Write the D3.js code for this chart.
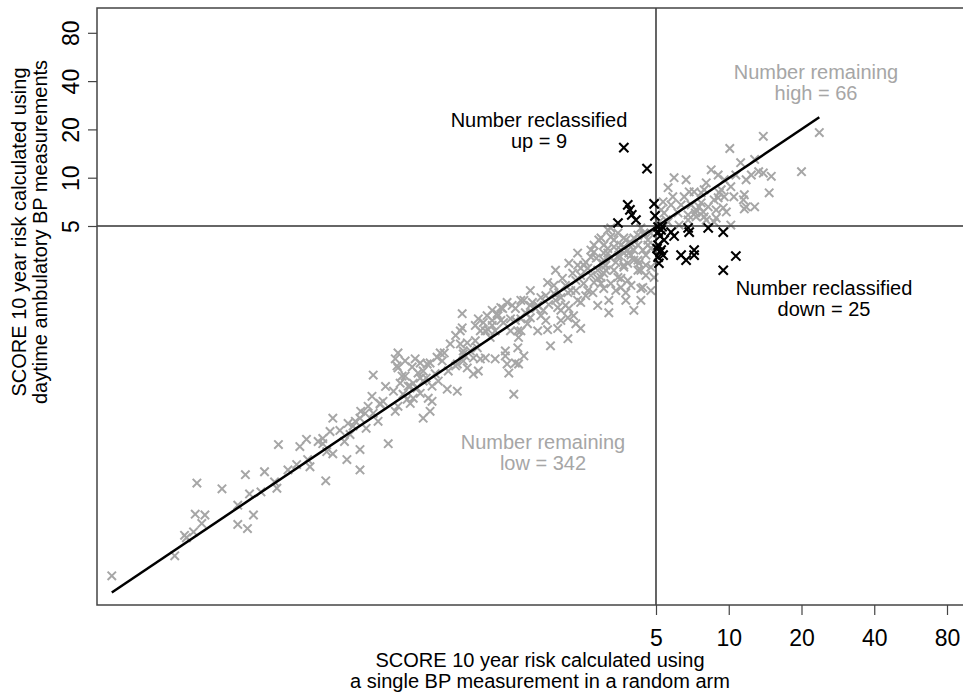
<!DOCTYPE html>
<html>
<head>
<meta charset="utf-8">
<script src="https://cdn.jsdelivr.net/npm/d3@7"></script>
<style>
body { margin: 0; background: #fff; }
svg text { font-family: "Liberation Sans", Arial, sans-serif; }
</style>
</head>
<body>
<script>
// SCORE 10 year risk (%): [single BP measurement, daytime ambulatory BP]
var remainingLow = [
    [0.028, 0.033], [0.063, 0.125], [0.080, 0.115], [0.100, 0.141], [0.120, 0.147], [0.137, 0.217],
    [0.150, 0.151], [0.132, 0.127], [0.135, 0.116], [0.116, 0.110], [0.104, 0.107], [0.093, 0.091],
    [0.062, 0.080], [0.068, 0.079], [0.066, 0.070], [0.056, 0.059], [0.057, 0.057], [0.061, 0.062],
    [0.051, 0.044], [0.093, 0.069], [0.102, 0.065], [0.108, 0.079], [0.163, 0.163], [0.179, 0.234],
    [0.181, 0.175], [0.185, 0.158], [0.209, 0.237], [0.209, 0.220], [0.217, 0.196], [0.230, 0.190],
    [0.215, 0.129], [0.230, 0.317], [0.246, 0.266], [0.266, 0.294], [0.271, 0.251], [0.263, 0.175],
    [0.298, 0.202], [0.298, 0.151], [0.298, 0.317], [0.316, 0.274], [0.322, 0.376], [0.313, 0.340],
    [0.338, 0.340], [0.354, 0.303], [0.361, 0.392], [0.390, 0.220], [0.417, 0.350], [0.428, 0.376],
    [0.467, 0.416], [0.338, 0.589], [0.417, 0.743], [0.428, 0.809], [0.424, 0.671], [0.437, 0.524],
    [0.481, 0.502], [0.495, 0.524], [0.513, 0.488], [0.529, 0.453], [0.544, 0.540], [0.529, 0.700],
    [0.565, 0.690], [0.592, 0.404], [0.581, 0.350], [0.544, 0.317], [0.684, 0.481], [0.753, 0.467],
    [0.691, 0.624], [0.704, 0.921], [0.753, 0.690], [0.797, 0.721], [0.828, 0.652], [0.852, 0.833],
    [0.911, 0.870], [0.878, 0.597], [0.652, 0.721], [0.789, 1.42], [0.789, 1.16], [1.21, 1.67],
    [1.10, 1.42], [1.05, 1.49], [1.17, 1.25], [1.25, 1.32], [0.965, 1.25], [0.938, 1.11],
    [1.01, 1.13], [1.03, 1.01], [0.894, 0.963], [0.828, 0.935], [0.797, 0.833], [0.878, 0.753],
    [0.938, 0.742], [0.920, 0.624], [0.984, 0.753], [1.08, 0.742], [1.19, 0.833], [1.21, 0.690],
    [1.23, 0.606], [1.31, 0.700], [1.34, 0.870], [1.35, 1.01], [1.29, 0.447], [0.581, 0.700],
    [0.544, 0.624], [0.529, 0.564], [0.472, 0.502], [0.428, 0.652], [0.371, 0.404], [0.449, 0.447],
    [0.495, 0.422], [0.571, 0.422], [0.481, 0.392], [0.361, 0.387], [1.35, 0.690], [1.42, 0.775],
    [1.19, 0.775], [1.83, 0.896], [1.96, 1.15], [2.16, 0.992], [2.44, 1.15], [2.28, 1.38],
    [2.18, 1.53], [1.78, 2.22], [1.92, 2.65], [2.18, 2.93], [2.37, 3.39], [2.37, 2.85],
    [2.77, 3.44], [3.04, 3.80], [3.25, 4.86], [2.87, 2.36], [3.04, 2.54], [3.35, 2.65],
    [3.58, 2.36], [3.75, 1.92], [3.19, 1.72], [3.19, 1.44], [2.87, 1.60], [4.05, 1.49],
    [4.33, 2.04], [2.74, 1.92], [2.44, 1.67], [1.96, 1.55], [1.67, 1.38], [1.62, 1.60],
    [1.51, 1.34], [1.38, 1.72], [1.14, 1.55], [1.05, 1.29], [1.34, 1.11], [1.47, 1.23],
    [1.62, 1.11], [1.78, 1.13], [1.75, 1.29], [2.02, 1.79], [2.16, 1.92], [2.51, 2.19],
    [2.44, 2.46], [2.61, 2.73], [3.01, 2.93], [3.25, 3.15], [3.68, 3.39], [3.94, 3.91],
    [4.21, 4.39], [4.05, 3.06], [4.21, 2.65], [3.68, 2.77], [0.775, 0.921], [0.797, 0.797],
    [2.44, 2.73], [2.05, 2.36], [1.89, 1.90], [1.67, 1.79], [1.54, 1.67], [1.42, 1.72],
    [1.31, 1.53], [1.16, 1.53], [1.71, 1.49], [2.02, 1.49], [2.16, 1.34], [2.37, 1.72],
    [2.61, 1.98], [2.77, 2.22], [2.87, 2.65], [3.04, 3.39], [3.25, 4.27], [3.16, 4.72],
    [3.35, 3.70], [2.96, 2.39], [3.04, 2.04], [3.25, 2.19], [1.38, 1.11], [3.48, 2.39],
    [3.58, 2.07], [3.68, 2.85], [3.68, 3.70], [3.82, 3.54], [4.05, 4.21], [3.48, 4.52],
    [4.46, 4.39], [4.63, 3.80], [4.05, 3.54], [3.58, 3.54], [3.16, 3.39], [4.21, 3.06],
    [3.82, 2.93], [4.33, 2.65], [2.96, 4.21], [3.35, 4.09], [3.68, 4.21], [4.46, 4.52],
    [2.77, 3.80], [3.16, 3.62], [3.58, 3.80], [4.63, 4.09], [2.69, 3.20], [3.04, 3.06],
    [3.48, 3.20], [3.86, 3.39], [4.41, 3.54], [4.76, 3.62], [4.25, 2.93], [4.76, 2.77],
    [2.96, 2.19], [3.82, 2.29], [4.41, 2.07], [4.91, 2.39], [0.504, 0.743], [0.621, 0.760],
    [0.665, 0.809], [0.920, 1.32], [1.00, 1.38], [0.894, 1.20], [1.44, 1.44], [1.59, 1.53],
    [1.80, 1.62], [2.11, 2.13], [2.33, 2.29], [2.56, 2.97], [2.83, 3.15], [3.41, 2.97],
    [3.10, 2.85], [3.75, 4.09], [4.21, 3.80], [4.54, 3.29], [4.54, 2.85], [4.76, 4.52],
    [4.33, 4.86], [3.94, 3.29], [2.69, 2.46], [2.22, 1.98], [1.92, 1.72], [1.14, 1.29],
    [1.08, 1.11], [0.812, 0.775], [0.741, 0.671], [0.610, 0.600], [0.458, 0.580], [0.410, 0.467],
    [0.300, 0.350], [0.279, 0.283], [0.200, 0.227], [0.380, 0.500], [2.11, 1.60], [2.56, 1.84],
    [1.51, 1.60], [1.31, 1.29], [0.458, 0.721], [0.490, 0.661], [0.518, 0.606], [0.445, 0.580],
    [0.560, 0.564], [0.592, 0.502], [0.628, 0.540], [0.640, 0.809], [0.984, 1.11], [1.05, 1.20],
    [1.11, 1.38], [1.27, 1.60], [1.38, 1.32], [1.75, 1.84], [1.89, 2.13], [1.98, 1.92],
    [2.26, 2.54], [2.51, 2.85], [2.69, 3.54], [2.90, 4.09], [3.10, 2.65], [3.41, 1.98],
    [3.75, 1.72], [4.33, 1.72], [4.76, 1.98], [4.54, 2.46], [3.94, 2.13], [3.51, 3.29],
    [2.33, 1.98], [2.02, 1.29], [2.33, 1.23], [1.51, 1.98], [1.25, 1.11], [0.775, 1.11],
    [0.741, 1.04], [0.168, 0.211], [0.224, 0.262], [0.285, 0.303], [0.257, 0.227], [0.334, 0.434]
];

var remainingHigh = [
    [13.9, 18.1], [23.7, 19.1], [10.1, 15.2], [11.2, 12.4], [12.8, 13.0], [8.46, 11.2],
    [9.04, 10.4], [9.58, 9.71], [11.8, 9.71], [12.4, 10.4], [13.3, 10.9], [13.9, 10.7],
    [15.0, 10.2], [20.0, 10.9], [7.19, 8.17], [7.91, 8.41], [9.13, 8.05], [9.04, 7.50],
    [9.58, 7.61], [10.5, 7.61], [11.6, 7.83], [11.5, 7.28], [11.8, 6.58], [11.6, 6.39],
    [12.8, 6.58], [14.7, 8.05], [7.54, 6.58], [7.84, 6.12], [8.22, 6.58], [8.87, 6.30],
    [9.49, 6.49], [9.77, 6.12], [8.87, 5.61], [8.70, 5.29], [10.2, 5.07], [7.28, 6.03],
    [7.91, 5.70], [9.31, 8.41], [10.2, 8.79], [5.94, 10.0], [6.66, 9.71], [5.61, 8.67],
    [7.69, 8.05], [5.35, 7.07], [5.77, 6.77], [6.35, 6.77], [6.17, 6.03], [6.79, 5.86],
    [7.33, 6.30], [7.69, 6.97], [8.70, 7.28], [5.51, 5.45], [6.86, 8.17], [5.40, 6.03],
    [5.61, 5.29], [7.33, 5.70], [6.79, 5.45], [6.54, 7.61], [8.07, 9.29], [10.7, 10.4],
    [5.25, 6.30], [5.87, 7.61], [6.99, 6.77], [8.07, 5.45], [5.14, 5.29], [6.23, 5.07]
];

var reclassifiedUp = [
    [3.68, 15.4], [4.59, 11.4], [3.82, 6.77], [3.97, 5.86], [4.13, 5.45], [3.48, 5.22],
    [4.91, 6.87], [3.90, 6.30], [4.95, 5.78]
];

var reclassifiedDown = [
    [5.10, 4.93], [5.25, 4.72], [5.94, 4.33], [6.79, 4.86], [6.86, 4.58], [8.22, 4.86],
    [9.49, 4.58], [5.25, 3.54], [5.35, 3.29], [5.14, 2.93], [6.35, 3.29], [6.66, 3.06],
    [7.19, 3.54], [7.19, 3.29], [10.7, 3.25], [9.49, 2.65], [5.10, 3.20], [5.10, 4.58],
    [5.20, 4.33], [5.30, 4.95], [5.05, 3.62], [5.20, 3.44], [5.10, 3.80], [5.40, 4.09],
    [5.77, 4.58]
];

var fitLine = [[0.028, 0.026], [23.7, 23.8]];
var tickValues = [5, 10, 20, 40, 80];
var threshold = 5;

var width = 963, height = 693;
var plotLeft = 97, plotRight = 985, plotTop = 8, plotBottom = 605;

var svg = d3.select("body").append("svg")
    .attr("width", width)
    .attr("height", height);

var x = d3.scaleLog().domain([0.02432, 114.9]).range([plotLeft, plotRight]);
var y = d3.scaleLog().domain([0.02172, 114.2]).range([plotBottom, plotTop]);

var grey = "#a6a6a6";
var cross = "M-4,-4L4,4M-4,4L4,-4";

function drawCrosses(data, colour, size, stroke) {
    svg.append("g").selectAll("path")
        .data(data)
        .enter().append("path")
        .attr("d", cross)
        .attr("transform", function (d) {
            return "translate(" + x(d[0]) + "," + y(d[1]) + ") scale(" + size + ")";
        })
        .attr("fill", "none")
        .attr("stroke", colour)
        .attr("stroke-width", stroke / size);
}

drawCrosses(remainingLow, grey, 1.05, 2);
drawCrosses(remainingHigh, grey, 1.05, 2);

// threshold lines at 5%
svg.append("line")
    .attr("x1", x(threshold)).attr("x2", x(threshold))
    .attr("y1", plotTop).attr("y2", plotBottom)
    .attr("stroke", "#333").attr("stroke-width", 1.5);
svg.append("line")
    .attr("x1", plotLeft).attr("x2", plotRight)
    .attr("y1", y(threshold)).attr("y2", y(threshold))
    .attr("stroke", "#333").attr("stroke-width", 1.5);

drawCrosses(reclassifiedUp, "#000", 1.15, 2.1);
drawCrosses(reclassifiedDown, "#000", 1.15, 2.1);

svg.append("path")
    .datum(fitLine)
    .attr("d", d3.line().x(function (d) { return x(d[0]); }).y(function (d) { return y(d[1]); }))
    .attr("fill", "none")
    .attr("stroke", "#000")
    .attr("stroke-width", 2.5);

// frame
svg.append("rect")
    .attr("x", plotLeft).attr("y", plotTop)
    .attr("width", plotRight - plotLeft).attr("height", plotBottom - plotTop)
    .attr("fill", "none").attr("stroke", "#444").attr("stroke-width", 1.5);

// axes
var xAxis = svg.append("g")
    .attr("transform", "translate(0," + plotBottom + ")")
    .call(d3.axisBottom(x).tickValues(tickValues).tickFormat(d3.format("d")).tickSize(10).tickPadding(15));
xAxis.select(".domain").remove();
xAxis.selectAll("line").attr("stroke", "#444").attr("stroke-width", 1.2);
xAxis.selectAll("text").attr("font-size", "23px").attr("fill", "#000")
    .attr("font-family", "Liberation Sans, Arial, sans-serif");

var yAxis = svg.append("g")
    .attr("transform", "translate(" + plotLeft + ",0)")
    .call(d3.axisLeft(y).tickValues(tickValues).tickFormat(d3.format("d")).tickSize(9));
yAxis.select(".domain").remove();
yAxis.selectAll("line").attr("stroke", "#444").attr("stroke-width", 1.2);
yAxis.selectAll("text")
    .attr("x", null).attr("dy", null)
    .attr("transform", "translate(-18,0) rotate(-90)")
    .attr("text-anchor", "middle")
    .attr("font-size", "23px").attr("fill", "#000")
    .attr("font-family", "Liberation Sans, Arial, sans-serif");

// axis titles
var xTitle = svg.append("text")
    .attr("text-anchor", "middle")
    .attr("font-size", "20px");
xTitle.append("tspan").attr("x", 540).attr("y", 667).text("SCORE 10 year risk calculated using");
xTitle.append("tspan").attr("x", 540).attr("y", 688).text("a single BP measurement in a random arm");

svg.append("text")
    .attr("transform", "translate(26,232) rotate(-90)")
    .attr("text-anchor", "middle").attr("font-size", "20px")
    .text("SCORE 10 year risk calculated using");
svg.append("text")
    .attr("transform", "translate(47,232) rotate(-90)")
    .attr("text-anchor", "middle").attr("font-size", "20px")
    .text("daytime ambulatory BP measurements");

// quadrant notes
function note(cx, cy, lines, colour) {
    var t = svg.append("text").attr("text-anchor", "middle")
        .attr("font-size", "20px").attr("fill", colour);
    lines.forEach(function (s, i) {
        t.append("tspan").attr("x", cx).attr("y", cy + i * 21).text(s);
    });
}
note(539, 127, ["Number reclassified", "up = 9"], "#000");
note(816, 79, ["Number remaining", "high = 66"], grey);
note(824, 295, ["Number reclassified", "down = 25"], "#000");
note(543, 449, ["Number remaining", "low = 342"], grey);
</script>
</body>
</html>
